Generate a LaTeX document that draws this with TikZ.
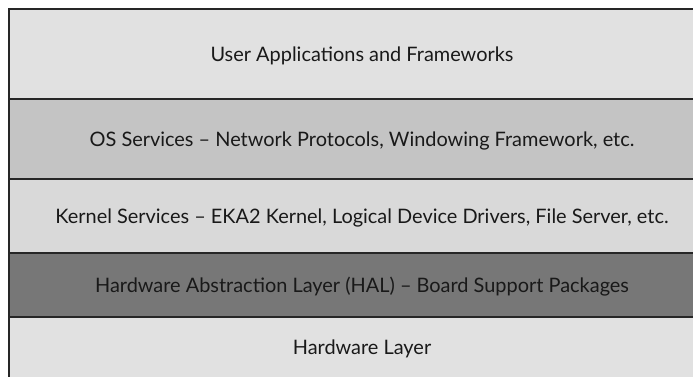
\documentclass[tikz,border=0pt]{standalone}
\usepackage{fontspec}
\setmainfont{Lato}
\usetikzlibrary{positioning}

\definecolor{userfill}{HTML}{E1E1E1}
\definecolor{osfill}{HTML}{C4C4C4}
\definecolor{kernelfill}{HTML}{D9D9D9}
\definecolor{halfill}{HTML}{777777}
\definecolor{hwfill}{HTML}{E1E1E1}

\begin{document}
\begin{tikzpicture}[x=1bp, y=-1bp, node distance=0pt,
                    layer/.style={draw=black!85, line width=1.2bp, minimum width=706bp,
                                  inner sep=0pt, outer sep=0pt, text=black!90, text depth=0pt,
                                  font=\fontsize{20}{24}\selectfont}]
\useasboundingbox (0,0) rectangle (693,376);

\node[layer, fill=userfill, minimum height=90bp, anchor=north west] (user) at (9,9) {User Applications and Frameworks};
\node[layer, fill=osfill, minimum height=80bp, below=of user] (os) {OS Services -- Network Protocols, Windowing Framework, etc.};
\node[layer, fill=kernelfill, minimum height=74bp, below=of os] (kernel) {Kernel Services -- EKA2 Kernel, Logical Device Drivers, File Server, etc.};
\node[layer, fill=halfill, minimum height=64bp, below=of kernel] (hal) {Hardware Abstraction Layer (HAL) -- Board Support Packages};
\node[layer, fill=hwfill, minimum height=61bp, below=of hal] (hw) {Hardware Layer};
\end{tikzpicture}
\end{document}
